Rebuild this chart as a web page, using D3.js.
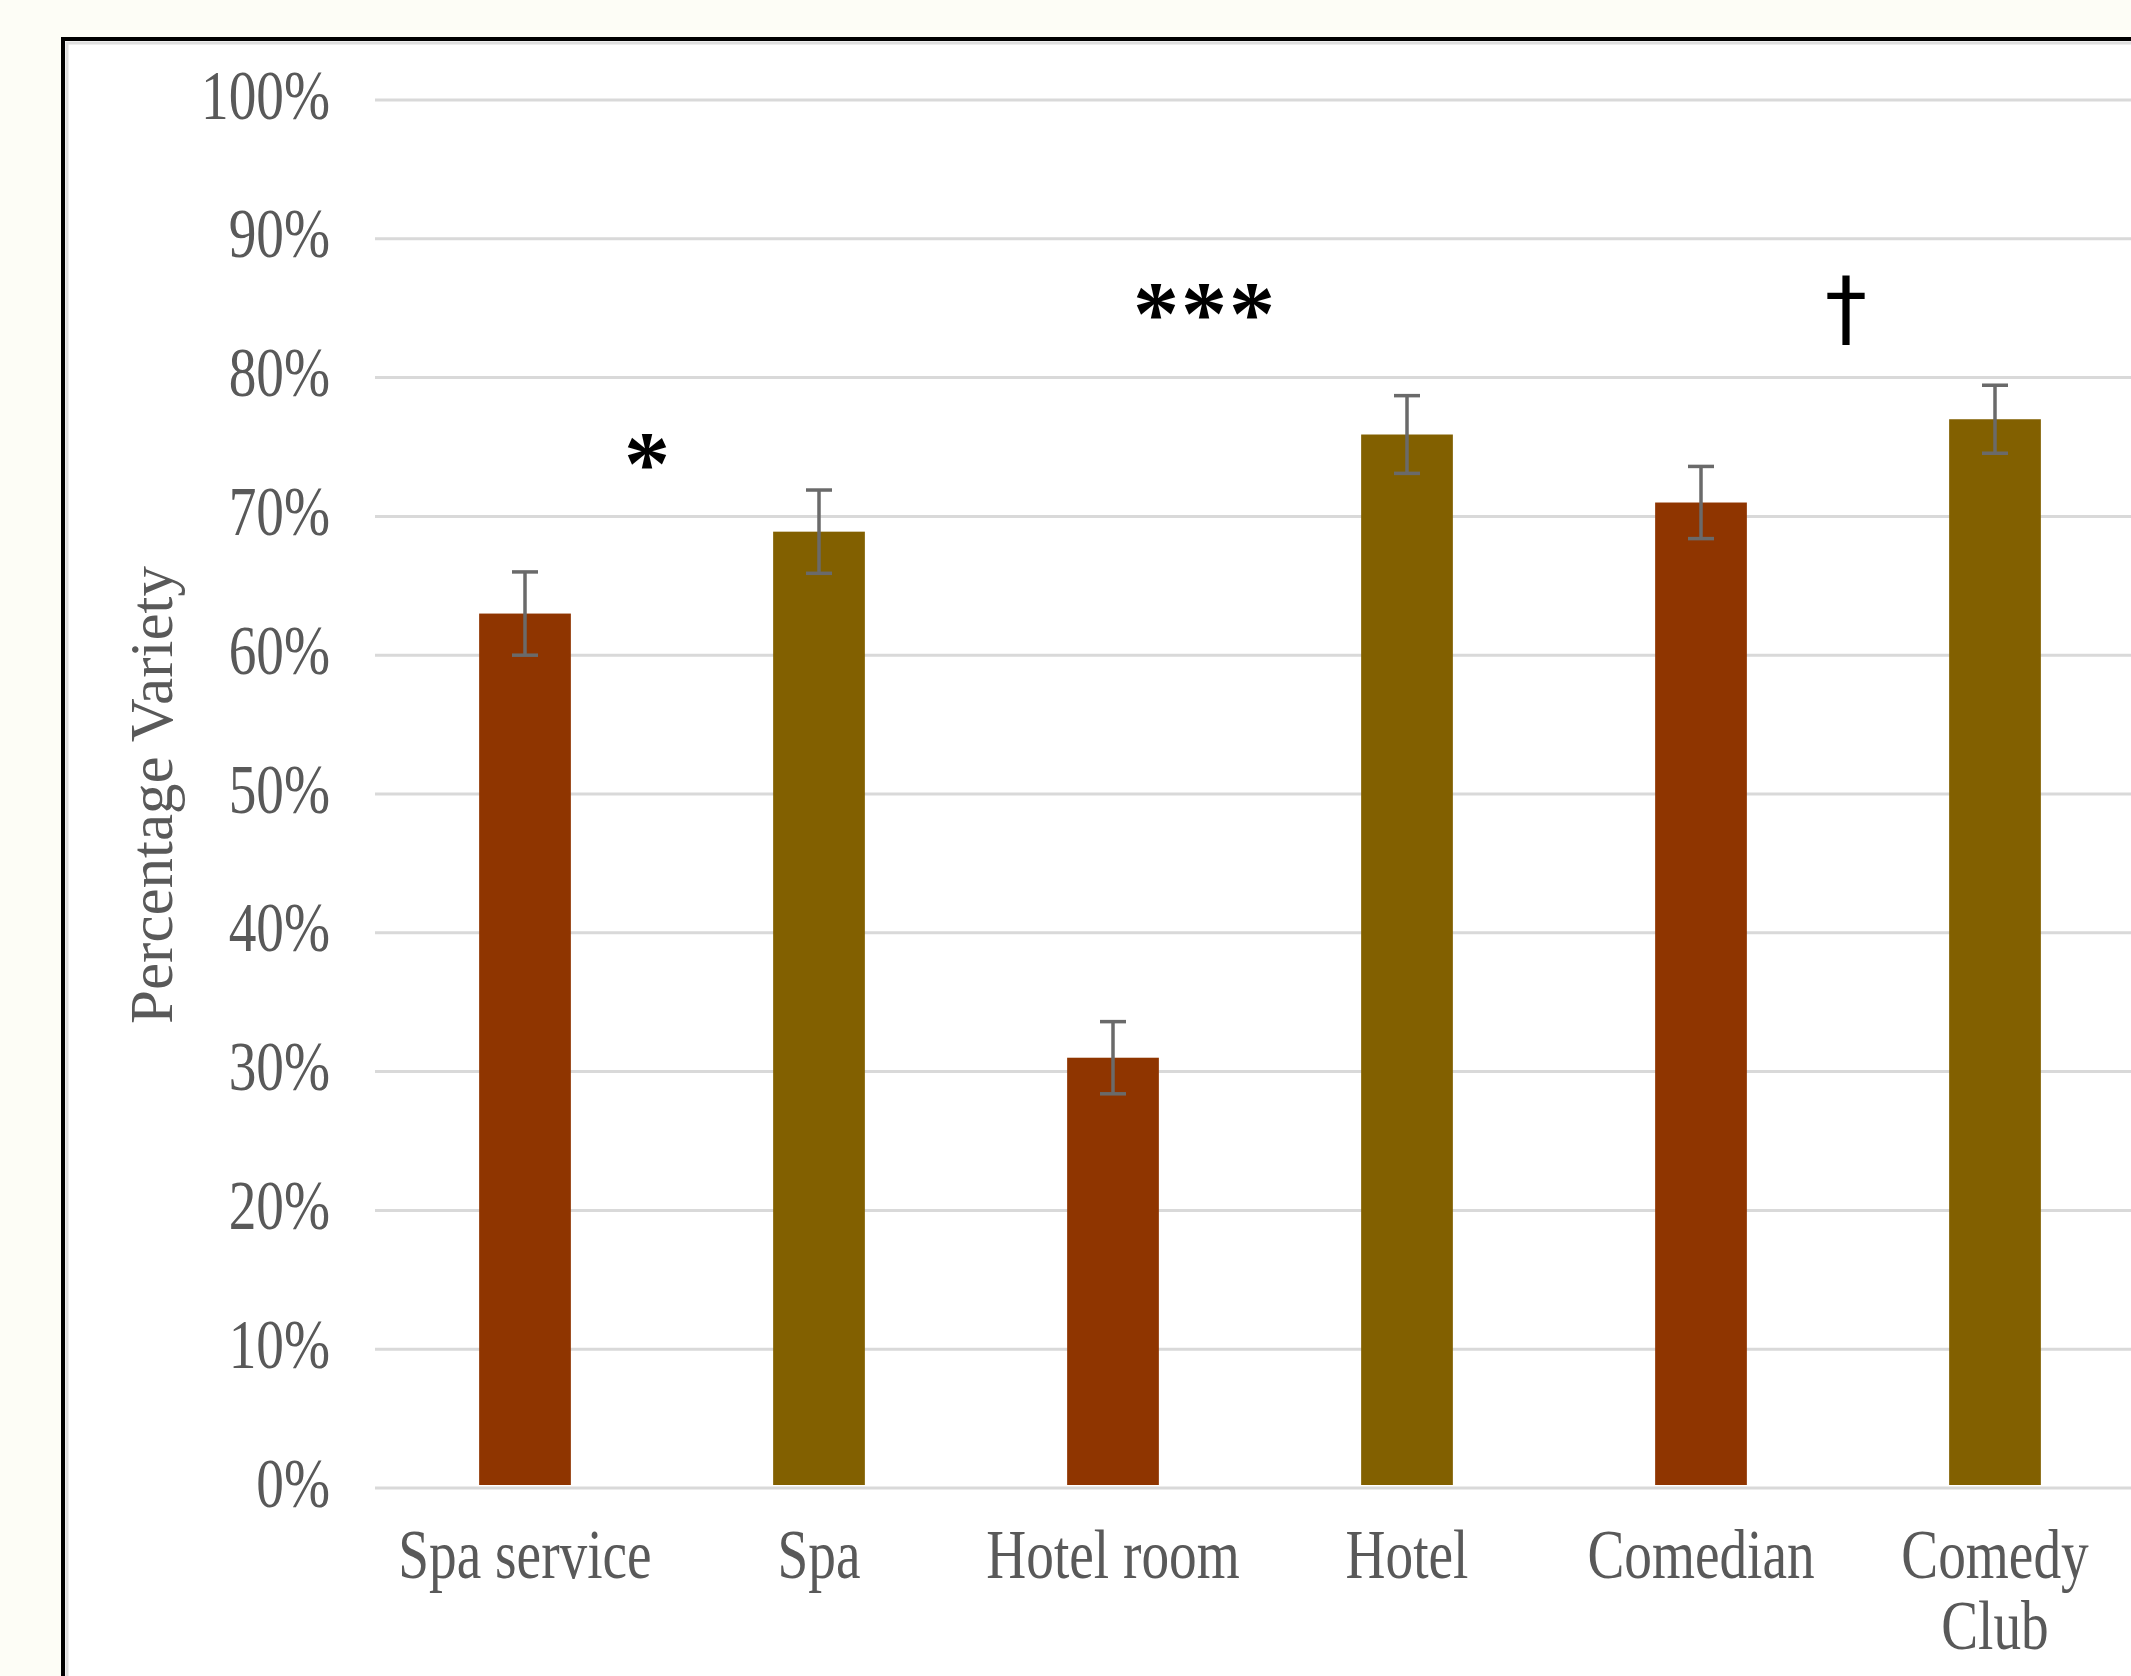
<!DOCTYPE html>
<html>
<head>
<meta charset="utf-8">
<script src="https://cdn.jsdelivr.net/npm/d3@7"></script>
<style>
  html, body { margin: 0; padding: 0; background: #fdfdf6; }
  svg { display: block; }
</style>
</head>
<body>
<svg id="chart" width="2131" height="1676"></svg>
<script>
// Share of choices showing variety, by item (specific vs. general label)
const categories = ["Spa service", "Spa", "Hotel room", "Hotel", "Comedian", "Comedy Club"];
const itemLevel = ["specific", "general", "specific", "general", "specific", "general"];
const meanVariety = [63.0, 68.9, 31.0, 75.9, 71.0, 77.0];
const errorMargin = [3.0, 3.0, 2.6, 2.8, 2.6, 2.45];
const yTicks = [0, 10, 20, 30, 40, 50, 60, 70, 80, 90, 100];
const significance = ["*", "***", "\u2020"];
const yTitle = "Percentage Variety";

const levelColor = { specific: "#8f3500", general: "#826000" };

const W = 2131, H = 1676;
const svg = d3.select("#chart");

// framed panel
svg.append("rect").attr("x", 63).attr("y", 39).attr("width", 2200).attr("height", 1800)
  .attr("fill", "#ffffff").attr("stroke", "#000").attr("stroke-width", 4);
svg.append("rect").attr("x", 67).attr("y", 43).attr("width", 2200).attr("height", 1800)
  .attr("fill", "none").attr("stroke", "#dedede").attr("stroke-width", 3);

const x = d3.scaleBand().domain(categories).range([378, 378 + 6 * 294]).padding(0);
const y = d3.scaleLinear().domain([0, 100]).range([1488, 100]);
const barW = x.bandwidth() * 0.312;

// horizontal gridlines
svg.append("g").selectAll("line").data(yTicks).join("line")
  .attr("x1", 375).attr("x2", W)
  .attr("y1", d => y(d)).attr("y2", d => y(d))
  .attr("stroke", "#d9d9d9").attr("stroke-width", 3);

// y tick labels (condensed serif)
const yAxis = d3.axisLeft(y).tickValues(yTicks).tickFormat(d => d + "%").tickSize(0).tickPadding(0);
const yg = svg.append("g").attr("transform", "translate(330,0)").call(yAxis);
yg.select(".domain").remove();
yg.selectAll(".tick text")
  .attr("font-family", "'Liberation Serif', 'Times New Roman', serif")
  .attr("font-size", 70).attr("fill", "#595959")
  .attr("dy", null).attr("y", 18)
  .attr("transform", "scale(0.79,1)");

// y-axis title
svg.append("text")
  .attr("transform", `translate(172,795) rotate(-90)`)
  .attr("text-anchor", "middle")
  .attr("font-family", "'Liberation Serif', 'Times New Roman', serif")
  .attr("font-size", 61).attr("fill", "#595959")
  .text(yTitle);

// bars
const rows = categories.map((c, i) => ({ cat: c, level: itemLevel[i], v: meanVariety[i], e: errorMargin[i] }));
svg.append("g").selectAll("rect").data(rows).join("rect")
  .attr("x", d => x(d.cat) + x.bandwidth() / 2 - barW / 2)
  .attr("width", barW)
  .attr("y", d => y(d.v))
  .attr("height", d => y(0) - 3 - y(d.v))
  .attr("fill", d => levelColor[d.level]);

// error bars
const eb = svg.append("g").attr("stroke", "#6a6a6a").attr("stroke-width", 3.5).attr("fill", "none");
rows.forEach(d => {
  const cx = x(d.cat) + x.bandwidth() / 2;
  eb.append("line").attr("x1", cx).attr("x2", cx).attr("y1", y(d.v + d.e)).attr("y2", y(d.v - d.e));
  [d.v + d.e, d.v - d.e].forEach(v =>
    eb.append("line").attr("x1", cx - 13).attr("x2", cx + 13).attr("y1", y(v)).attr("y2", y(v)));
});

// category labels, wrapped to the band width
const catG = svg.append("g");
const sx = 0.79;
rows.forEach(d => {
  const cx = x(d.cat) + x.bandwidth() / 2;
  const t = catG.append("text")
    .attr("transform", `translate(${cx},1578) scale(${sx},1)`)
    .attr("text-anchor", "middle")
    .attr("font-family", "'Liberation Serif', 'Times New Roman', serif")
    .attr("font-size", 70).attr("fill", "#595959")
    .text(d.cat);
  if (t.node().getComputedTextLength() * sx > x.bandwidth()) {
    const words = d.cat.split(" ");
    t.text(null);
    words.forEach((w, i) => t.append("tspan").attr("x", 0).attr("dy", i ? 71 : 0).text(w));
  }
});

// significance markers between each specific/general pair
const markG = svg.append("g")
  .attr("fill", "#000").attr("text-anchor", "middle");
const markNudge = [-24, -55, -2];
const markLevel = [74.9, 85.7, 84.9];
significance.forEach((s, i) => {
  const mid = x(categories[2 * i]) + x.bandwidth();
  const isDagger = s === "\u2020";
  markG.append("text")
    .attr("x", mid + markNudge[i])
    .attr("y", y(markLevel[i]))
    .attr("dy", isDagger ? "0.33em" : "0.5em")
    .attr("font-family", isDagger ? "'DejaVu Sans', sans-serif" : "'Liberation Serif', 'Times New Roman', serif")
    .attr("font-weight", isDagger ? "normal" : "bold")
    .attr("font-size", isDagger ? 84 : 92)
    .attr("letter-spacing", isDagger ? null : 2)
    .text(s);
});
</script>
</body>
</html>
